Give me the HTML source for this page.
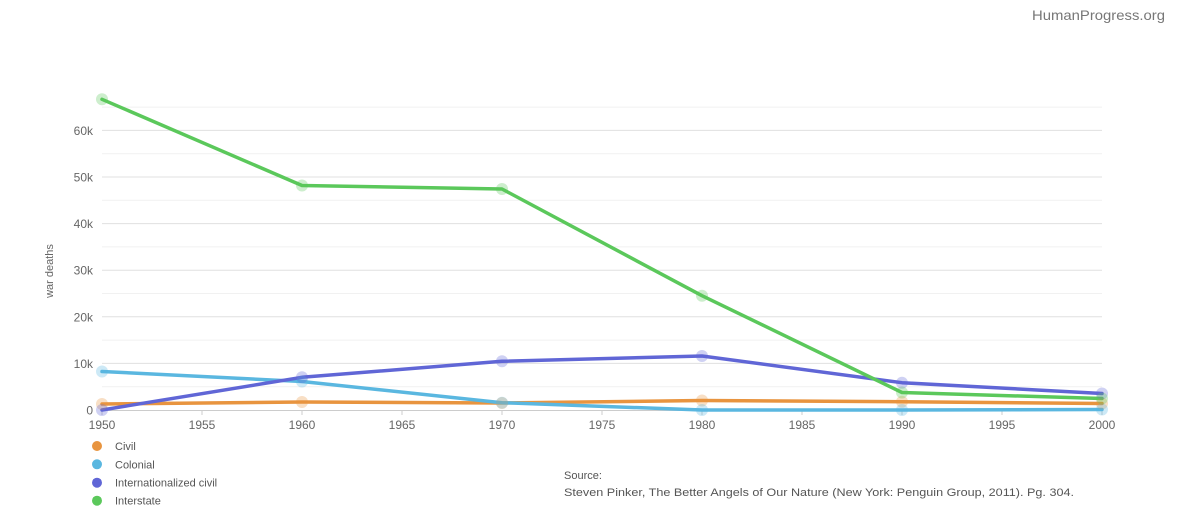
<!DOCTYPE html>
<html><head><meta charset="utf-8"><style>
html,body{margin:0;padding:0;background:#fff;}
svg{display:block;font-family:"Liberation Sans",sans-serif;}
</style></head><body>
<svg width="1200" height="520" viewBox="0 0 1200 520" xmlns="http://www.w3.org/2000/svg">
<rect width="1200" height="520" fill="#fff"/>
<text x="1032" y="20" font-size="14" fill="#777" textLength="133" lengthAdjust="spacingAndGlyphs">HumanProgress.org</text>
<!-- minor grid -->
<g stroke="#f1f1f1" stroke-width="1">
<line x1="102" x2="1102" y1="386.7" y2="386.7"/>
<line x1="102" x2="1102" y1="340.1" y2="340.1"/>
<line x1="102" x2="1102" y1="293.5" y2="293.5"/>
<line x1="102" x2="1102" y1="246.9" y2="246.9"/>
<line x1="102" x2="1102" y1="200.3" y2="200.3"/>
<line x1="102" x2="1102" y1="153.7" y2="153.7"/>
<line x1="102" x2="1102" y1="107.1" y2="107.1"/>
</g>
<g stroke="#e0e0e0" stroke-width="1">
<line x1="102" x2="1102" y1="363.4" y2="363.4"/>
<line x1="102" x2="1102" y1="316.8" y2="316.8"/>
<line x1="102" x2="1102" y1="270.2" y2="270.2"/>
<line x1="102" x2="1102" y1="223.6" y2="223.6"/>
<line x1="102" x2="1102" y1="177" y2="177"/>
<line x1="102" x2="1102" y1="130.4" y2="130.4"/>
</g>
<line x1="102" x2="1102" y1="410.5" y2="410.5" stroke="#ccc" stroke-width="1"/>
<g stroke="#ccc" stroke-width="1">
<line x1="102" x2="102" y1="410" y2="415"/><line x1="202" x2="202" y1="410" y2="415"/>
<line x1="302" x2="302" y1="410" y2="415"/><line x1="402" x2="402" y1="410" y2="415"/>
<line x1="502" x2="502" y1="410" y2="415"/><line x1="602" x2="602" y1="410" y2="415"/>
<line x1="702" x2="702" y1="410" y2="415"/><line x1="802" x2="802" y1="410" y2="415"/>
<line x1="902" x2="902" y1="410" y2="415"/><line x1="1002" x2="1002" y1="410" y2="415"/>
<line x1="1102" x2="1102" y1="410" y2="415"/>
</g>
<g font-size="12" fill="#666" text-anchor="end">
<text x="93" y="414.5">0</text>
<text x="93" y="368">10k</text>
<text x="93" y="321.3">20k</text>
<text x="93" y="274.7">30k</text>
<text x="93" y="228.1">40k</text>
<text x="93" y="181.5">50k</text>
<text x="93" y="134.9">60k</text>
</g>
<g font-size="12" fill="#666" text-anchor="middle">
<text x="102" y="429">1950</text><text x="202" y="429">1955</text>
<text x="302" y="429">1960</text><text x="402" y="429">1965</text>
<text x="502" y="429">1970</text><text x="602" y="429">1975</text>
<text x="702" y="429">1980</text><text x="802" y="429">1985</text>
<text x="902" y="429">1990</text><text x="1002" y="429">1995</text>
<text x="1102" y="429">2000</text>
</g>
<text transform="translate(53,271) rotate(-90)" text-anchor="middle" font-size="11" fill="#666">war deaths</text>

<g fill="none" stroke-width="3.5" stroke-linejoin="round" stroke-linecap="round">
<polyline stroke="#e8943f" points="102,404 302,402 502,403 702,400.5 902,401.7 1102,403.5"/>
<polyline stroke="#5ab7e0" points="102,371.5 302,381.5 502,402.7 702,410 902,410 1102,409.5"/>
<polyline stroke="#6066d6" points="102,410 302,377.3 502,361.3 702,356 902,382.7 1102,393.5"/>
<polyline stroke="#5bc85b" points="102,99.3 302,185.5 502,189 702,295.7 902,392.5 1102,398.5"/>
</g>
<g fill-opacity="0.3">
<g fill="#e8943f"><circle cx="102" cy="404" r="6"/><circle cx="302" cy="402" r="6"/><circle cx="502" cy="403" r="6"/><circle cx="702" cy="400.5" r="6"/><circle cx="902" cy="401.7" r="6"/><circle cx="1102" cy="403.5" r="6"/></g>
<g fill="#5ab7e0"><circle cx="102" cy="371.5" r="6"/><circle cx="302" cy="381.5" r="6"/><circle cx="502" cy="402.7" r="6"/><circle cx="702" cy="410" r="6"/><circle cx="902" cy="410" r="6"/><circle cx="1102" cy="409.5" r="6"/></g>
<g fill="#6066d6"><circle cx="102" cy="410" r="6"/><circle cx="302" cy="377.3" r="6"/><circle cx="502" cy="361.3" r="6"/><circle cx="702" cy="356" r="6"/><circle cx="902" cy="382.7" r="6"/><circle cx="1102" cy="393.5" r="6"/></g>
<g fill="#5bc85b"><circle cx="102" cy="99.3" r="6"/><circle cx="302" cy="185.5" r="6"/><circle cx="502" cy="189" r="6"/><circle cx="702" cy="295.7" r="6"/><circle cx="902" cy="392.5" r="6"/><circle cx="1102" cy="398.5" r="6"/></g>
</g>

<g font-size="11" fill="#555">
<circle cx="97" cy="446" r="5" fill="#e8943f"/><text x="115" y="450">Civil</text>
<circle cx="97" cy="464.3" r="5" fill="#5ab7e0"/><text x="115" y="468.3">Colonial</text>
<circle cx="97" cy="482.7" r="5" fill="#6066d6"/><text x="115" y="486.7">Internationalized civil</text>
<circle cx="97" cy="500.7" r="5" fill="#5bc85b"/><text x="115" y="504.7">Interstate</text>
</g>
<g font-size="11" fill="#555">
<text x="564" y="479">Source:</text>
<text x="564" y="496" textLength="510" lengthAdjust="spacingAndGlyphs">Steven Pinker, The Better Angels of Our Nature (New York: Penguin Group, 2011). Pg. 304.</text>
</g>
</svg>
</body></html>
